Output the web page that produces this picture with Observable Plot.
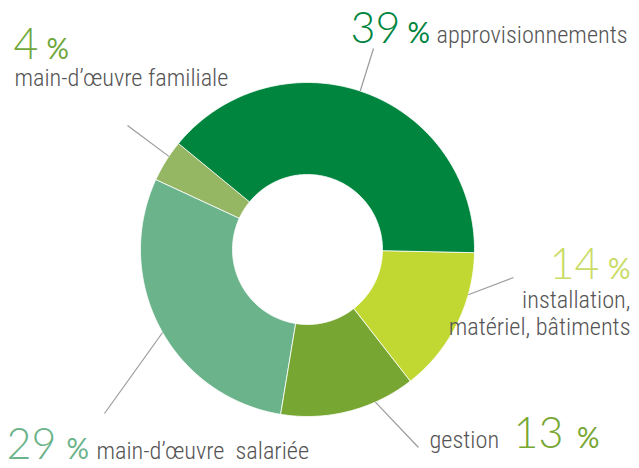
<!DOCTYPE html>
<html>
<head>
<meta charset="utf-8">
<script src="https://cdn.jsdelivr.net/npm/d3@7"></script>
<script src="https://cdn.jsdelivr.net/npm/@observablehq/plot@0.6"></script>
<style>
html, body { margin: 0; padding: 0; background: #fff; }
#chart svg text { white-space: pre; }
</style>
</head>
<body>
<div id="chart"></div>
<script>
// ---- data ----
const categories = ["approvisionnements", "installation, matériel, bâtiments", "gestion", "main-d’œuvre salariée", "main-d’œuvre familiale"];
const shares = [39, 14, 13, 29, 4];
const percentTexts = ["39", "14", "13", "29", "4"];
const nameLabels = ["approvisionnements", "installation,\nmatériel, bâtiments", "gestion", "main-d’œuvre  salariée", "main-d’œuvre familiale"];
const sliceColors = ["#00853f", "#c1d832", "#77a633", "#6bb38a", "#95b663"];
const labelColors = ["#00853f", "#c9dc66", "#77a633", "#6bb38a", "#6fa83c"];

// ---- layout (pixels) ----
const W = 639, H = 468;
const cx = 307, cy = 249, R = 167, r = 75;
const startDeg = -50.6;
const leaderAngleDeg = [18.4, 105.7, 156, 240.2, 303.9];
const leaderEnd = [[373, 48], [513, 277], [418, 447], [104, 413], [127, 125]];
const numPos = [[350, 42, "start"], [599, 278, "end"], [563, 447, "end"], [6, 458, "start"], [13, 58, "start"]];
const pctPos = [[407, 42, "start"], [630, 278, "end"], [599, 447, "end"], [66, 458, "start"], [46, 58, "start"]];
const namePos = [[436, 42, "start"], [630, 334, "end"], [429, 447, "start"], [96, 458, "start"], [14, 85, "start"]];

const labelFont = "'Liberation Sans Narrow', 'Roboto Condensed', 'DejaVu Sans Condensed', sans-serif";
const numFont = "Lato, 'Open Sans', sans-serif";

// ---- geometry from data ----
const a0 = startDeg * Math.PI / 180;
const arcs = d3.pie().sort(null).value(d => d).startAngle(a0).endAngle(a0 + 2 * Math.PI)(shares);
const pt = (a, rho) => [cx + rho * Math.sin(a), cy - rho * Math.cos(a)];
const ring = [];
arcs.forEach((a, i) => {
  const n = Math.max(8, Math.ceil((a.endAngle - a.startAngle) * 180 / Math.PI));
  for (let k = 0; k <= n; k++) {
    const t = a.startAngle + (a.endAngle - a.startAngle) * k / n;
    const [x, y] = pt(t, R);
    ring.push({cat: categories[i], x, y});
  }
  for (let k = n; k >= 0; k--) {
    const t = a.startAngle + (a.endAngle - a.startAngle) * k / n;
    const [x, y] = pt(t, r);
    ring.push({cat: categories[i], x, y});
  }
});

const leaders = categories.map((c, i) => {
  const [x1, y1] = pt(leaderAngleDeg[i] * Math.PI / 180, R);
  return {cat: c, x1, y1, x2: leaderEnd[i][0], y2: leaderEnd[i][1]};
});

function pieces(pos, texts, anchor) {
  return categories.map((c, i) => ({i, x: pos[i][0], y: pos[i][1], anchor: pos[i][2], text: texts[i], color: labelColors[i]}))
    .filter(d => d.anchor === anchor);
}

const textMarks = [];
for (const anchor of ["start", "end"]) {
  textMarks.push(Plot.text(pieces(numPos, percentTexts, anchor), {
    x: "x", y: "y", text: "text", fill: d => d.color, textAnchor: anchor, lineAnchor: "bottom",
    fontFamily: numFont, fontWeight: 300, fontSize: 43
  }));
  textMarks.push(Plot.text(pieces(pctPos, percentTexts.map(() => "%"), anchor), {
    x: "x", y: "y", text: "text", fill: d => d.color, textAnchor: anchor, lineAnchor: "bottom",
    fontFamily: numFont, fontWeight: 400, fontSize: 28
  }));
  textMarks.push(Plot.text(pieces(namePos, nameLabels, anchor), {
    x: "x", y: "y", text: "text", fill: "#555555", textAnchor: anchor, lineAnchor: "bottom",
    lineHeight: 1.1, fontFamily: labelFont, fontWeight: 300, fontSize: 24.3
  }));
}

const chart = Plot.plot({
  width: W, height: H, margin: 0,
  x: {domain: [0, W], range: [0, W], axis: null},
  y: {domain: [0, H], range: [0, H], axis: null},
  color: {domain: categories, range: sliceColors},
  style: {background: "#fff"},
  marks: [
    Plot.line(ring, {x: "x", y: "y", z: "cat", fill: "cat", stroke: "#fff", strokeWidth: 0.8, curve: "linear-closed"}),
    Plot.link(leaders, {x1: "x1", y1: "y1", x2: "x2", y2: "y2", stroke: "#9b9b9b", strokeWidth: 1.2}),
    ...textMarks
  ]
});
document.getElementById("chart").append(chart);
</script>
</body>
</html>
